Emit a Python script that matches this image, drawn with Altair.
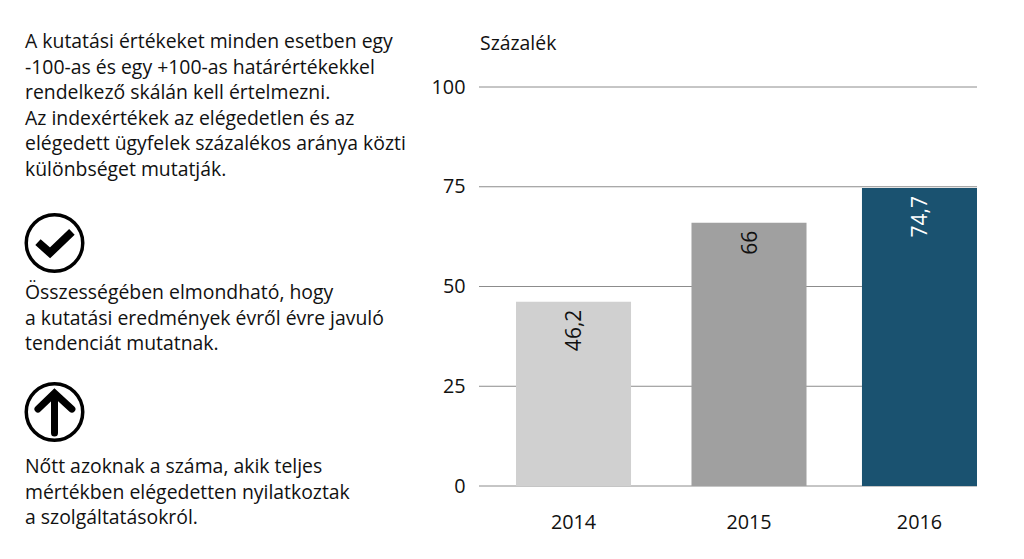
import altair as alt
import pandas as pd

years = ["2014", "2015", "2016"]
values = [46.2, 66, 74.7]
value_labels = ["46,2", "66", "74,7"]
bar_colors = ["#d0d0d0", "#a0a0a0", "#1a5270"]
label_colors = ["#111111", "#111111", "#ffffff"]
y_ticks = [0, 25, 50, 75, 100]

block1 = [
    "A kutatási értékeket minden esetben egy",
    "-100-as és egy +100-as határértékekkel",
    "rendelkező skálán kell értelmezni.",
    "Az indexértékek az elégedetlen és az",
    "elégedett ügyfelek százalékos aránya közti",
    "különbséget mutatják.",
]
block2 = [
    "Összességében elmondható, hogy",
    "a kutatási eredmények évről évre javuló",
    "tendenciát mutatnak.",
]
block3 = [
    "Nőtt azoknak a száma, akik teljes",
    "mértékben elégedetten nyilatkoztak",
    "a szolgáltatásokról.",
]
axis_title = "Százalék"

FONT = "Open Sans"
FS = 19.4
TOP, LEFT = 79, 471   # plot origin inside the 8px page margin
one = alt.Data(values=[{}])
pxx = lambda p: p - (LEFT + 8)
pxy = lambda p: p - (TOP + 8)
MID_SHIFT = "datum.year=='2015' ? 2.5 : 0"

df = pd.DataFrame({"year": years, "value": values, "label": value_labels,
                   "bar": bar_colors, "tc": label_colors})
ticks_df = pd.DataFrame({"tick": y_ticks})

x = alt.X("year:N", title=None, sort=years,
          scale=alt.Scale(range=[37, 498], paddingInner=0.335, paddingOuter=0),
          axis=alt.Axis(labelAngle=0, ticks=False, domain=False, labelPadding=26,
                        labelFont=FONT, labelFontSize=19.8, labelColor="#111111",
                        labelOffset={"condition": {"test": "datum.value=='2015'", "value": 2.5},
                                     "value": 0}))
y = alt.Y("value:Q", title=None, scale=alt.Scale(domain=[0, 100]),
          axis=alt.Axis(values=y_ticks, ticks=False, domain=False, labelPadding=14,
                        labelFont=FONT, labelFontSize=19.8, labelColor="#111111", grid=False))

grid = alt.Chart(ticks_df).mark_rule(color="#8c8c8c", strokeWidth=1).encode(
    x=alt.value(0), x2=alt.value(498),
    y=alt.Y("tick:Q", title=None, scale=alt.Scale(domain=[0, 100])))
bars = alt.Chart(df).mark_bar(xOffset=alt.expr(MID_SHIFT)).encode(
    x=x, y=y, color=alt.Color("bar:N", scale=None))
labels = alt.Chart(df).mark_text(angle=270, align="right", baseline="middle", dx=-8, dy=1.5,
                                 xOffset=alt.expr(MID_SHIFT),
                                 font=FONT, fontSize=21).encode(
    x=x, y=y, text="label:N", color=alt.Color("tc:N", scale=None))

layers = [grid, bars, labels]


def text_line(s, px, py):
    return alt.Chart(one).mark_text(align="left", baseline="middle", font=FONT,
                                    fontSize=FS, color="#111111").encode(
        x=alt.value(pxx(px)), y=alt.value(pxy(py)), text=alt.value(s))


for block, start in ((block1, 42), (block2, 293), (block3, 467)):
    for i, s in enumerate(block):
        layers.append(text_line(s, 25, start + i * 25.6))
layers.append(text_line(axis_title, 480, 44))


def icon(shape, cx, cy, sw, cap="butt", size=3364):
    return alt.Chart(one).mark_point(shape=shape, size=size, filled=False, stroke="#000000",
                                     strokeWidth=sw, strokeCap=cap, opacity=1).encode(
        x=alt.value(pxx(cx)), y=alt.value(pxy(cy)))


layers += [
    icon("circle", 54.5, 243, 3.5, size=3192),
    icon("M-0.57,-0.03L-0.155,0.34L0.6,-0.38", 54.5, 243, 8),
    icon("circle", 54.5, 412, 3.5, size=3192),
    icon("M0,0.72L0,-0.65M-0.57,-0.1L0,-0.65L0.6,-0.1", 54.5, 412, 7, cap="round"),
]

chart = alt.layer(*layers).properties(
    width=498, height=399,
    autosize=alt.AutoSizeParams(type="none"),
    padding={"left": LEFT, "top": TOP, "right": 30, "bottom": 57},
    background="#ffffff",
).configure_view(stroke=None)

chart.save("out.html", embed_options={"renderer": "svg", "actions": False})
